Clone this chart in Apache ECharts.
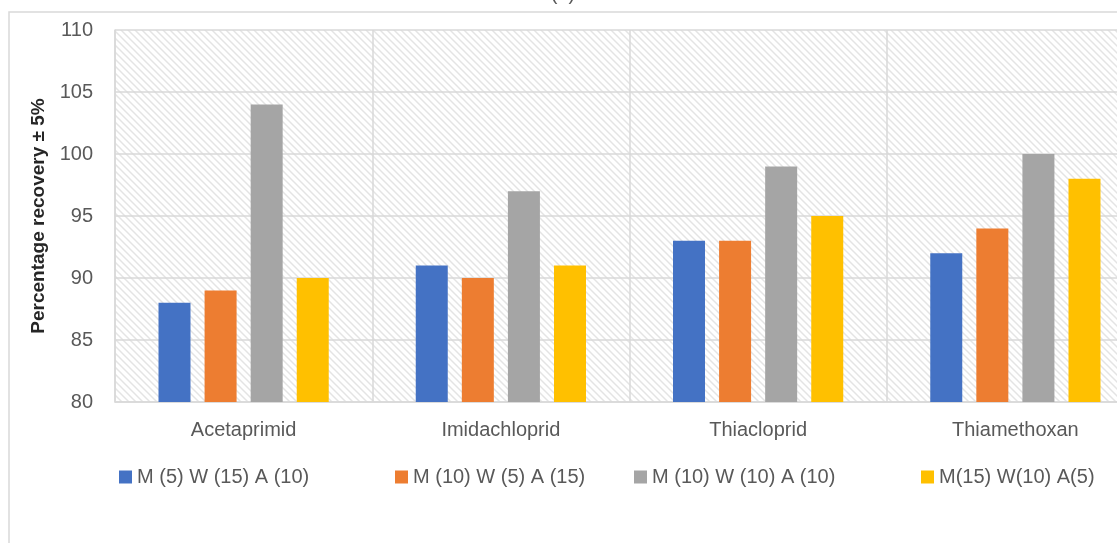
<!DOCTYPE html>
<html>
<head>
<meta charset="utf-8">
<script src="https://cdn.jsdelivr.net/npm/echarts@6/dist/echarts.min.js"></script>
<style>
html,body{margin:0;padding:0;background:#fff;}
#c{width:1117px;height:543px;}
</style>
</head>
<body>
<div id="c"></div>
<script>
const categories = ['Acetaprimid', 'Imidachloprid', 'Thiacloprid', 'Thiamethoxan'];
const seriesNames = ['M (5) W (15) A (10)', 'M (10) W (5) A (15)', 'M (10) W (10) A (10)', 'M(15) W(10) A(5)'];
const s1 = [88, 91, 93, 92];
const s2 = [89, 90, 93, 94];
const s3 = [104, 97, 99, 100];
const s4 = [90, 91, 95, 98];
const colors = ['#4472C4', '#ED7D31', '#A5A5A5', '#FFC000'];
const yTicks = {min: 80, max: 110, interval: 5};

const FONT = 'Liberation Sans, Arial, sans-serif';
const TXT = '#595959';
const GRIDC = '#d9d9d9';

// hatch pattern
const tile = 7;
const cv = document.createElement('canvas');
cv.width = tile; cv.height = tile;
const ctx = cv.getContext('2d');
ctx.fillStyle = '#ffffff';
ctx.fillRect(0, 0, tile, tile);
ctx.strokeStyle = '#e4e4e4';
ctx.lineWidth = 1.5;
for (const o of [-tile, 0, tile]) {
  ctx.beginPath();
  ctx.moveTo(o - 1, -1);
  ctx.lineTo(o + tile + 1, tile + 1);
  ctx.stroke();
}

const chart = echarts.init(document.getElementById('c'), null, {renderer: 'canvas'});
const data = [s1, s2, s3, s4];
const legendLefts = [114, 390, 629, 916];

chart.setOption({
  animation: false,
  textStyle: {fontFamily: FONT},
  graphic: [
    {type: 'rect', z: -10, shape: {x: 9, y: 12, width: 1200, height: 600},
     style: {fill: 'none', stroke: GRIDC, lineWidth: 1.5}},
    {type: 'text', x: 563, y: 4, z: 10,
     style: {text: '(b)', fill: TXT, font: '20px ' + FONT, textAlign: 'center', textVerticalAlign: 'bottom'}}
  ],
  grid: {left: 115, width: 1029, top: 30, height: 372, containLabel: false, outerBoundsMode: 'none', show: true,
         borderWidth: 0, backgroundColor: {image: cv, repeat: 'repeat'}},
  legend: seriesNames.map((n, i) => ({
    data: [n], left: legendLefts[i], top: 462, icon: 'rect', itemWidth: 13, itemHeight: 13,
    itemGap: 5, textStyle: {fontSize: 20, color: TXT, fontFamily: FONT}
  })),
  xAxis: {
    type: 'category', data: categories,
    axisLine: {show: true, lineStyle: {color: GRIDC, width: 1.5}},
    axisTick: {show: false},
    axisLabel: {fontSize: 20, color: TXT, margin: 18, fontFamily: FONT},
    splitLine: {show: true, lineStyle: {color: GRIDC, width: 1.5}}
  },
  yAxis: {
    type: 'value', min: yTicks.min, max: yTicks.max, interval: yTicks.interval,
    axisLine: {show: true, lineStyle: {color: GRIDC, width: 1.5}},
    axisTick: {show: false},
    axisLabel: {fontSize: 20, color: TXT, margin: 22, fontFamily: FONT},
    splitLine: {show: true, lineStyle: {color: GRIDC, width: 1.5}},
    name: 'Percentage recovery ± 5%', nameLocation: 'middle', nameRotate: 90, nameGap: 66,
    nameTextStyle: {fontSize: 19, fontWeight: 'bold', color: '#262626', fontFamily: FONT}
  },
  series: seriesNames.map((n, i) => ({
    name: n, type: 'bar', data: data[i], barWidth: 32, barGap: '44%',
    itemStyle: {color: colors[i]}
  }))
});
</script>
</body>
</html>
